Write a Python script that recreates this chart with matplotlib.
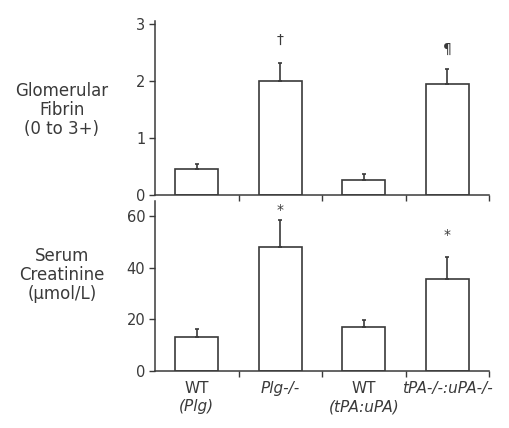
import matplotlib
matplotlib.use("Agg")
import matplotlib.pyplot as plt
from matplotlib.ticker import FixedLocator

# ---- data ----
categories = ["WT (Plg)", "Plg-/-", "WT (tPA:uPA)", "tPA-/-:uPA-/-"]
label_line1 = ["WT", "Plg-/-", "WT", "tPA-/-:uPA-/-"]
label_line1_italic = [False, True, False, True]
label_line2 = ["(Plg)", "", "(tPA:uPA)", ""]

fibrin = [0.46, 2.0, 0.27, 1.95]
fibrin_err = [0.08, 0.31, 0.10, 0.26]
fibrin_marks = ["", "†", "", "¶"]

creat = [13.3, 48.3, 17.1, 35.8]
creat_err = [3.2, 10.4, 2.8, 8.6]
creat_marks = ["", "*", "", "*"]

fibrin_ticks = [0, 1, 2, 3]
creat_ticks = [0, 20, 40, 60]

# ---- style ----
ink = "#3a3a3a"
plt.rcParams['font.family'] = ['DejaVu Sans']

W, H = 509, 428
fig = plt.figure(figsize=(W / 100, H / 100), dpi=100)
left = 155 / W
width = (489 - 155) / W

ax1 = fig.add_axes([left, 1 - 195 / H, width, 174 / H])
ax2 = fig.add_axes([left, 1 - 371 / H, width, 170 / H])

x = list(range(len(categories)))
bw = 0.51

def style(ax, ymax, yticks):
    ax.set_xlim(-0.5, 3.5)
    ax.set_ylim(0, ymax)
    for s in ["top", "right"]:
        ax.spines[s].set_visible(False)
    for s in ["left", "bottom"]:
        ax.spines[s].set_color(ink)
        ax.spines[s].set_linewidth(1.1)
    ax.set_yticks(yticks)
    ax.tick_params(axis="y", colors=ink, labelsize=10.5, length=4, width=1.0,
                   labelcolor=ink, pad=3)
    ax.set_xticks([])
    ax.xaxis.set_minor_locator(FixedLocator([0.5, 1.5, 2.5, 3.5]))
    ax.tick_params(axis="x", which="minor", length=4, width=1.0, colors=ink,
                   direction="out")
    ax.patch.set_alpha(0)

def draw(ax, vals, errs, marks, mark_offs):
    ax.bar(x, vals, width=bw, facecolor="white", edgecolor=ink, linewidth=1.2,
           zorder=2)
    ax.errorbar(x, vals, yerr=[[0] * len(vals), errs], fmt="none",
                ecolor=ink, elinewidth=1.2, capsize=1.5, capthick=1.2, zorder=3)
    for xi, v, e, m, off in zip(x, vals, errs, marks, mark_offs):
        if m:
            ax.text(xi, v + e + off, m, ha="center", va="bottom",
                    fontsize=10, color=ink)

style(ax1, 3.05, fibrin_ticks)
style(ax2, 66, creat_ticks)
draw(ax1, fibrin, fibrin_err, fibrin_marks, [0.25, 0.28, 0.25, 0.22])
draw(ax2, creat, creat_err, creat_marks, [1.5, 1.0, 1.5, 5.5])

# y-axis titles
fig.text(62 / W, 1 - 110 / H, "Glomerular\nFibrin\n(0 to 3+)", ha="center",
         va="center", fontsize=12, color=ink, linespacing=1.1)
fig.text(62 / W, 1 - 275 / H, "Serum\nCreatinine\n(µmol/L)", ha="center",
         va="center", fontsize=12, color=ink, linespacing=1.1)

# category labels
trans = ax2.get_xaxis_transform()
for xi, l1, it, l2 in zip(x, label_line1, label_line1_italic, label_line2):
    ax2.text(xi, -0.06, l1, transform=trans, ha="center", va="top",
             fontsize=11, color=ink, style="italic" if it else "normal")
    if l2:
        ax2.text(xi, -0.165, l2, transform=trans, ha="center", va="top",
                 fontsize=11, color=ink, style="italic")

fig.savefig("out.png", dpi=100, facecolor="white")
